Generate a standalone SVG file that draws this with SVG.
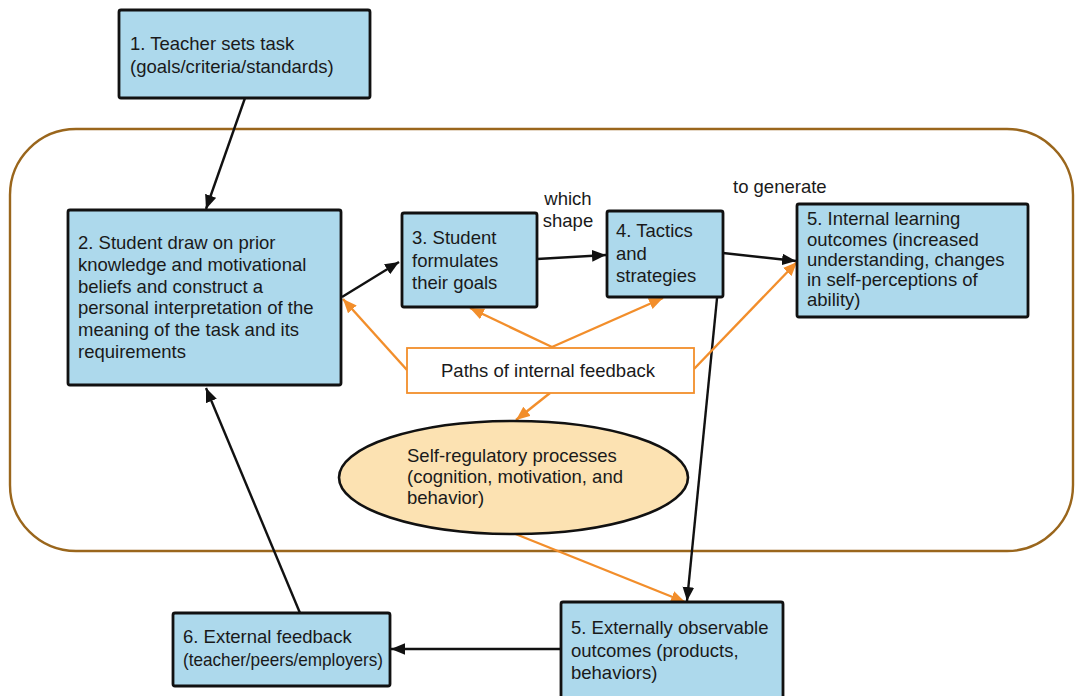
<svg xmlns="http://www.w3.org/2000/svg" width="1075" height="696" viewBox="0 0 1075 696">
  <style>
    .box { fill: #add9ec; stroke: #111; stroke-width: 2.8; }
    .txt { font-family: "Liberation Sans", Arial, sans-serif; font-size: 18.5px; fill: #1a1a1a; }
    .blk { stroke: #111; stroke-width: 2.4; fill: none; }
    .org { stroke: #f28e2b; stroke-width: 2.4; fill: none; }
  </style>
  <defs>
    <marker id="ah-black" viewBox="0 0 12 10" refX="12" refY="5" markerUnits="userSpaceOnUse" markerWidth="14" markerHeight="12" orient="auto">
      <path d="M0,0 L12,5 L0,10 Z" fill="#111"/>
    </marker>
    <marker id="ah-orange" viewBox="0 0 12 10" refX="12" refY="5" markerUnits="userSpaceOnUse" markerWidth="14" markerHeight="12" orient="auto">
      <path d="M0,0 L12,5 L0,10 Z" fill="#f28e2b"/>
    </marker>
  </defs>

  <rect width="1075" height="696" fill="#ffffff"/>

  <!-- learner boundary -->
  <rect id="boundary" x="10" y="129" width="1063" height="422" rx="66" ry="66" fill="none" stroke="#9a661c" stroke-width="2.4"/>

  <!-- connectors -->
  <g id="connectors">
    <line class="blk" x1="245" y1="98" x2="206" y2="209" marker-end="url(#ah-black)"/>
    <line class="blk" x1="342" y1="297" x2="399" y2="262" marker-end="url(#ah-black)"/>
    <line class="blk" x1="537" y1="259" x2="606" y2="255" marker-end="url(#ah-black)"/>
    <line class="blk" x1="723" y1="253" x2="796" y2="261" marker-end="url(#ah-black)"/>
    <line class="blk" x1="721" y1="258" x2="687" y2="601" marker-end="url(#ah-black)"/>
    <line class="blk" x1="561" y1="649" x2="391" y2="649" marker-end="url(#ah-black)"/>
    <line class="blk" x1="300" y1="613" x2="206" y2="388" marker-end="url(#ah-black)"/>

    <line class="org" x1="407" y1="370" x2="343" y2="299" marker-end="url(#ah-orange)"/>
    <line class="org" x1="552" y1="347" x2="470" y2="308" marker-end="url(#ah-orange)"/>
    <line class="org" x1="552" y1="347" x2="663" y2="298" marker-end="url(#ah-orange)"/>
    <line class="org" x1="694" y1="369" x2="797" y2="262" marker-end="url(#ah-orange)"/>
    <line class="org" x1="550" y1="393" x2="516" y2="420" marker-end="url(#ah-orange)"/>
    <line class="org" x1="513" y1="533" x2="685" y2="602" marker-end="url(#ah-orange)"/>
  </g>

  <!-- connector labels -->
  <g id="labels" class="txt">
    <text x="568" y="205" text-anchor="middle">which</text>
    <text x="568" y="227" text-anchor="middle">shape</text>
    <text x="733" y="193">to generate</text>
  </g>

  <g id="node1">
    <rect class="box" x="119" y="10" width="251" height="88" rx="2"/>
    <text class="txt" x="130" y="50">1. Teacher sets task</text>
    <text class="txt" x="130" y="73">(goals/criteria/standards)</text>
  </g>

  <g id="node2">
    <rect class="box" x="68" y="210" width="273" height="175" rx="2"/>
    <text class="txt" x="78" y="249">2. Student draw on prior</text>
    <text class="txt" x="78" y="271">knowledge and motivational</text>
    <text class="txt" x="78" y="293">beliefs and construct a</text>
    <text class="txt" x="78" y="314">personal interpretation of the</text>
    <text class="txt" x="78" y="336">meaning of the task and its</text>
    <text class="txt" x="78" y="358">requirements</text>
  </g>

  <g id="node3">
    <rect class="box" x="402" y="213" width="135" height="94" rx="2"/>
    <text class="txt" x="412" y="244">3. Student</text>
    <text class="txt" x="412" y="267">formulates</text>
    <text class="txt" x="412" y="289">their goals</text>
  </g>

  <g id="node4">
    <rect class="box" x="607" y="211" width="116" height="86" rx="2"/>
    <text class="txt" x="616" y="237">4. Tactics</text>
    <text class="txt" x="616" y="260">and</text>
    <text class="txt" x="616" y="282">strategies</text>
  </g>

  <g id="node5-internal">
    <rect class="box" x="797" y="204" width="231" height="113" rx="2"/>
    <text class="txt" x="807" y="225">5. Internal learning</text>
    <text class="txt" x="807" y="246">outcomes (increased</text>
    <text class="txt" x="807" y="266">understanding, changes</text>
    <text class="txt" x="807" y="286">in self-perceptions of</text>
    <text class="txt" x="807" y="306">ability)</text>
  </g>

  <g id="paths-feedback">
    <rect x="407" y="348" width="287" height="45" fill="#ffffff" stroke="#f28e2b" stroke-width="1.8"/>
    <text class="txt" x="548" y="377" text-anchor="middle">Paths of internal feedback</text>
  </g>

  <g id="self-regulation">
    <ellipse cx="513.5" cy="477.5" rx="174.5" ry="56.5" fill="#fce2b2" stroke="#111" stroke-width="2.6"/>
    <text class="txt" x="407" y="462">Self-regulatory processes</text>
    <text class="txt" x="407" y="483">(cognition, motivation, and</text>
    <text class="txt" x="407" y="504">behavior)</text>
  </g>

  <g id="node6">
    <rect class="box" x="173" y="613" width="217" height="73" rx="2"/>
    <text class="txt" x="183" y="643">6. External feedback</text>
    <text class="txt" x="183" y="666" textLength="200" lengthAdjust="spacingAndGlyphs">(teacher/peers/employers)</text>
  </g>

  <g id="node5-external">
    <rect class="box" x="561" y="602" width="222" height="100" rx="2"/>
    <text class="txt" x="571" y="634">5. Externally observable</text>
    <text class="txt" x="571" y="657">outcomes (products,</text>
    <text class="txt" x="571" y="679">behaviors)</text>
  </g>
</svg>
